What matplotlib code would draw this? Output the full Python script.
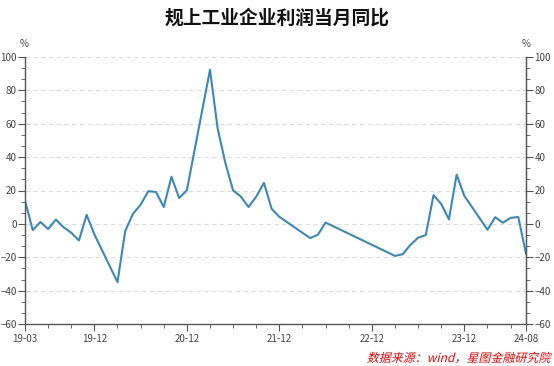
import matplotlib
matplotlib.use("Agg")
import matplotlib.pyplot as plt
from matplotlib.ticker import MultipleLocator, AutoMinorLocator
from matplotlib.textpath import TextPath
from matplotlib.patches import PathPatch
from matplotlib.font_manager import FontProperties
from matplotlib.transforms import Affine2D
import pandas as pd

plt.rcParams['font.family'] = ['Noto Sans CJK SC', 'DejaVu Sans']

# data: monthly yoy, %, months without a value are left out
months = ["2019-03", "2019-04", "2019-05", "2019-06", "2019-07", "2019-08", "2019-09",
          "2019-10", "2019-11", "2019-12",
          "2020-03", "2020-04", "2020-05", "2020-06", "2020-07", "2020-08", "2020-09",
          "2020-10", "2020-11", "2020-12",
          "2021-03", "2021-04", "2021-05", "2021-06", "2021-07", "2021-08", "2021-09",
          "2021-10", "2021-11", "2021-12",
          "2022-04", "2022-05", "2022-06",
          "2023-03", "2023-04", "2023-05", "2023-06", "2023-07", "2023-08", "2023-09",
          "2023-10", "2023-11", "2023-12",
          "2024-03", "2024-04", "2024-05", "2024-06", "2024-07", "2024-08"]
values = [13.9, -3.7, 1.1, -3.1, 2.6, -2.0, -5.3, -9.9, 5.4, -6.3,
          -34.9, -4.3, 6.0, 11.5, 19.6, 19.1, 10.1, 28.2, 15.5, 20.1,
          92.3, 57.0, 36.4, 20.0, 16.4, 10.1, 16.3, 24.6, 9.0, 4.2,
          -8.5, -6.5, 0.8,
          -19.2, -18.2, -12.6, -8.3, -6.7, 17.2, 11.9, 2.7, 29.5, 16.8,
          -3.5, 4.0, 0.7, 3.6, 4.1, -17.8]
tick_labels = ["19-03", "19-12", "20-12", "21-12", "22-12", "23-12", "24-08"]

start = pd.Period("2019-03", "M")
x = [(pd.Period(m, "M") - start).n for m in months]
label_pos = [(pd.Period("20" + t, "M") - start).n for t in tick_labels]
end = label_pos[-1]

fig = plt.figure(figsize=(5.54, 3.66), dpi=100)
ax = fig.add_axes([25 / 554, 1 - 324 / 366, 501 / 554, 267 / 366])

ax.plot(x, values, color="#3a89b8", linewidth=1.5)

ax.set_xlim(0, end)
ax.set_ylim(-60, 100)
ax.yaxis.set_major_locator(MultipleLocator(20))
ax.yaxis.set_minor_locator(AutoMinorLocator(3))
ax.grid(axis="y", which="major", color="#dcdcdc", linestyle=(0, (4, 3)), linewidth=0.8)

ax.set_xticks(label_pos)
ax.set_xticklabels(tick_labels)
ax.set_xticks(list(range(0, end + 1, 3)), minor=True)

gray = "#555555"
for s in ["left", "bottom", "right"]:
    ax.spines[s].set_color(gray)
    ax.spines[s].set_linewidth(1.0)
ax.spines["top"].set_visible(False)
ax.tick_params(axis="both", which="both", colors=gray, labelcolor="#444444",
               labelsize=7, direction="out")
ax.tick_params(axis="x", which="major", length=5, pad=2)
ax.tick_params(axis="x", which="minor", length=3)
ax.tick_params(axis="y", which="major", length=5, pad=1)
ax.tick_params(axis="y", which="minor", length=3)

ax2 = ax.twinx()
ax2.set_ylim(-60, 100)
ax2.yaxis.set_major_locator(MultipleLocator(20))
ax2.yaxis.set_minor_locator(AutoMinorLocator(3))
for s in ["left", "bottom", "top"]:
    ax2.spines[s].set_visible(False)
ax2.spines["right"].set_color(gray)
ax2.tick_params(axis="y", which="both", colors=gray, labelcolor="#444444",
                labelsize=7, direction="out", pad=1)
ax2.tick_params(axis="y", which="major", length=5)
ax2.tick_params(axis="y", which="minor", length=3)

fig.text(24 / 554, 1 - 44 / 366, "%", fontsize=7, color="#444444", ha="center", va="center")
fig.text(526 / 554, 1 - 44 / 366, "%", fontsize=7, color="#444444", ha="center", va="center")

fig.text(0.5, 1 - 18 / 366, "规上工业企业利润当月同比", fontsize=13.5, fontweight="bold",
         color="#111111", ha="center", va="center")

# slanted source note (CJK font has no italic, so skew the glyph outlines)
note = "数据来源：wind，星图金融研究院"
tp = TextPath((0, 0), note, size=12, prop=FontProperties(family="Noto Sans CJK SC"))
ext = tp.get_extents()
x0 = 552 - ext.x1 - 2
y0 = 366 - 362
note_tr = Affine2D().skew_deg(14, 0).translate(x0, y0)
fig.add_artist(PathPatch(tp, transform=note_tr, facecolor="red", edgecolor="none"))

fig.savefig("out.png", dpi=100)
